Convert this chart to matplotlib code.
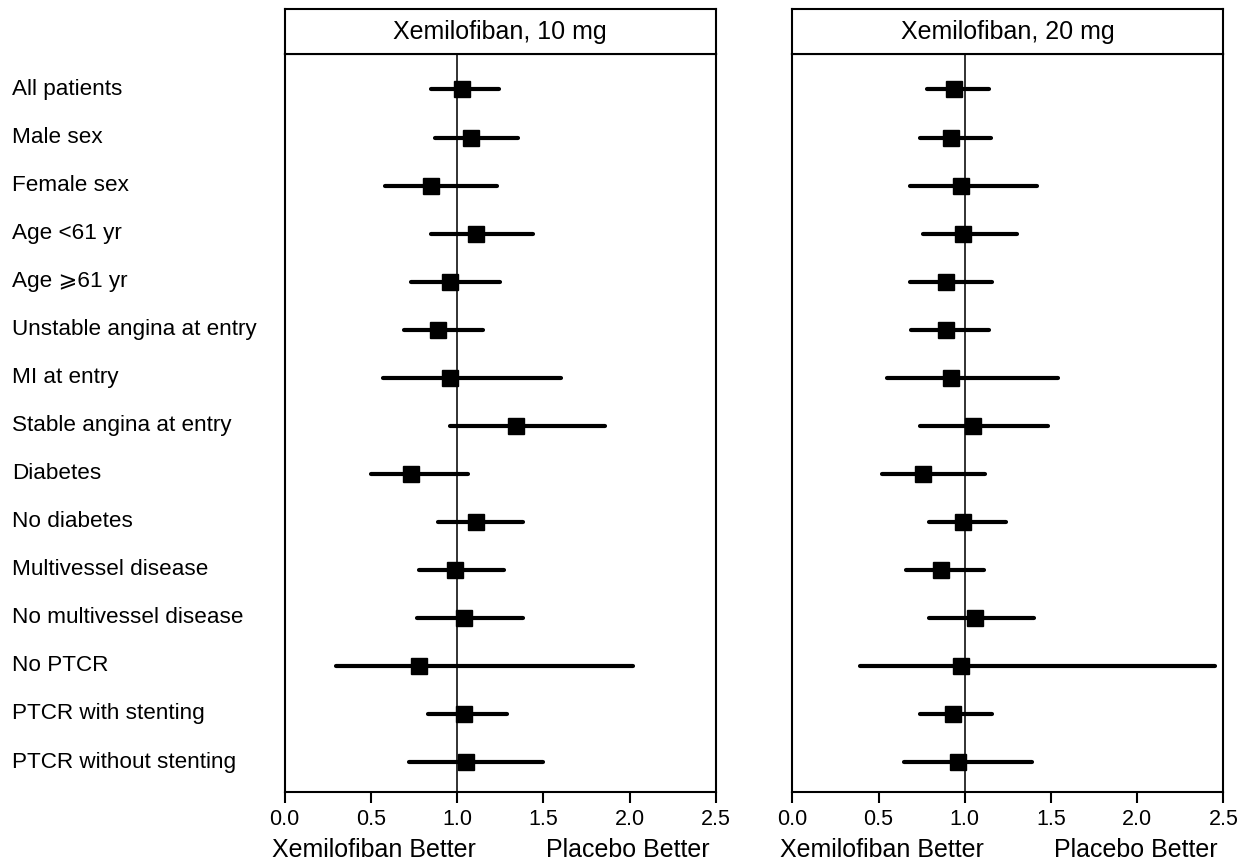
import matplotlib.pyplot as plt
import matplotlib.transforms as mtransforms

plt.rcParams['font.family'] = ['Liberation Sans', 'DejaVu Sans']

subgroups = ["All patients", "Male sex", "Female sex", "Age <61 yr", "Age \u2a7e61 yr",
             "Unstable angina at entry", "MI at entry", "Stable angina at entry",
             "Diabetes", "No diabetes", "Multivessel disease", "No multivessel disease",
             "No PTCR", "PTCR with stenting", "PTCR without stenting"]

# 10 mg: point estimate, lower, upper
est_10 = [1.03, 1.08, 0.85, 1.11, 0.96, 0.89, 0.96, 1.34, 0.73, 1.11, 0.99, 1.04, 0.78, 1.04, 1.05]
lo_10 = [0.85, 0.87, 0.58, 0.85, 0.73, 0.69, 0.57, 0.96, 0.50, 0.89, 0.78, 0.77, 0.30, 0.83, 0.72]
hi_10 = [1.24, 1.35, 1.23, 1.44, 1.25, 1.15, 1.60, 1.86, 1.06, 1.38, 1.27, 1.38, 2.02, 1.29, 1.50]

# 20 mg
est_20 = [0.94, 0.92, 0.98, 0.99, 0.89, 0.89, 0.92, 1.05, 0.76, 0.99, 0.86, 1.06, 0.98, 0.93, 0.96]
lo_20 = [0.78, 0.74, 0.68, 0.76, 0.68, 0.69, 0.55, 0.74, 0.52, 0.79, 0.66, 0.79, 0.39, 0.74, 0.65]
hi_20 = [1.14, 1.15, 1.42, 1.30, 1.16, 1.14, 1.54, 1.48, 1.12, 1.24, 1.11, 1.40, 2.45, 1.16, 1.39]

panels = ["Xemilofiban, 10 mg", "Xemilofiban, 20 mg"]
xticks = [0.0, 0.5, 1.0, 1.5, 2.0, 2.5]

fig = plt.figure(figsize=(12.46, 8.67), dpi=100)

lefts = [0.2285, 0.6359]
ypos = list(range(len(subgroups), 0, -1))
data = [(est_10, lo_10, hi_10), (est_20, lo_20, hi_20)]

for k in range(2):
    ax = fig.add_axes([lefts[k], 0.0862, 0.3460, 0.8516])
    hax = fig.add_axes([lefts[k], 0.9377, 0.3460, 0.0519])
    est, lo, hi = data[k]

    ax.axvline(1.0, color='#222222', lw=1.3, zorder=1)
    for y, e, a, b in zip(ypos, est, lo, hi):
        ax.plot([a, b], [y, y], color='black', lw=3.0, solid_capstyle='round', zorder=2)
        ax.plot(e, y, marker='s', ms=11.5, color='black', zorder=3)

    ax.set_xlim(0, 2.5)
    ax.set_ylim(0.37, 15.74)
    ax.set_xticks(xticks)
    ax.set_xticklabels(["%.1f" % t for t in xticks], fontsize=15.5)
    ax.set_yticks([])
    ax.tick_params(axis='x', length=8, width=1.5, pad=4)
    for s in ax.spines.values():
        s.set_linewidth(1.5)

    tr_b = mtransforms.blended_transform_factory(ax.transData, ax.transAxes)
    ax.text(0.52, -0.078, "Xemilofiban Better", transform=tr_b, ha='center', va='center', fontsize=18)
    ax.text(1.99, -0.078, "Placebo Better", transform=tr_b, ha='center', va='center', fontsize=18)

    hax.set_xticks([])
    hax.set_yticks([])
    for s in hax.spines.values():
        s.set_linewidth(1.5)
    hax.text(0.5, 0.5, panels[k], ha='center', va='center', fontsize=18)

    if k == 0:
        tr = mtransforms.blended_transform_factory(fig.transFigure, ax.transData)
        for y, name in zip(ypos, subgroups):
            ax.text(12 / 1246, y, name, transform=tr, ha='left', va='center', fontsize=16.2)

fig.savefig("out.png", dpi=100)
